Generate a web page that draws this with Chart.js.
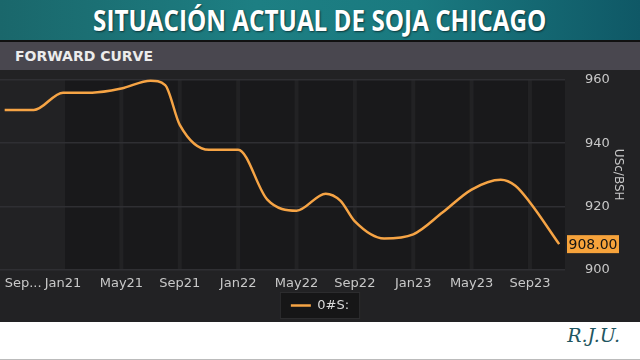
<!DOCTYPE html>
<html>
<head>
<meta charset="utf-8">
<script src="https://cdn.jsdelivr.net/npm/chart.js@4.4.1/dist/chart.umd.min.js"></script>
<style>
html,body{margin:0;padding:0;}
body{width:640px;height:360px;overflow:hidden;background:#fff;position:relative;font-family:"DejaVu Sans",sans-serif;}
#cabecera{position:absolute;left:0;top:0;width:640px;height:40px;background:linear-gradient(90deg,#1a676b 0%,#1d7f83 40%,#1a7a80 65%,#0f5866 100%);}
#titulo{position:absolute;left:0;top:0;width:640px;height:40px;line-height:40px;text-align:center;color:#fff;font-family:"Open Sans",sans-serif;font-weight:700;font-size:28px;text-shadow:1px 1px 2px rgba(0,0,0,.55);white-space:nowrap;}
#titulo span{display:inline-block;transform-origin:center center;}
#linea{position:absolute;top:40px;left:0;width:640px;height:2px;background:#111;}
#barra{position:absolute;top:42px;left:0;width:640px;height:28px;background:#49474f;}
#barra span{position:absolute;left:15px;top:0;line-height:28px;color:#ececec;font-weight:700;font-size:14px;}
#grafico{position:absolute;top:70px;left:0;width:640px;height:252px;background:#222224;}
#pie{position:absolute;top:322px;left:0;width:640px;height:38px;background:#fff;border-bottom:1px solid #bbb;box-sizing:border-box;}
#firma{position:absolute;right:20px;top:2px;font-family:"DejaVu Serif",serif;font-style:italic;font-size:19px;color:#1f5661;}
</style>
</head>
<body>
<div id="cabecera"></div>
<div id="titulo"><span>SITUACIÓN ACTUAL DE SOJA CHICAGO</span></div>
<div id="linea"></div>
<div id="barra"><span>FORWARD CURVE</span></div>
<div id="grafico"><canvas id="curva" width="640" height="252"></canvas></div>
<div id="pie"><div id="firma">R.J.U.</div></div>
<script>
const contratos=['Sep20','Nov20','Jan21','Mar21','May21','Jul21','Aug21','Sep21','Nov21','Jan22','Mar22','May22','Jul22','Aug22','Sep22','Nov22','Jan23','Mar23','May23','Jul23','Aug23','Sep23','Nov23'];
const precios=[950.5,950.5,956,956,957.3,959.8,958.4,945.8,937.9,937.9,922.1,918.6,924,921.8,915.2,909.8,911.1,918,925.3,928.4,926.5,921.2,908];
const etiquetasX=['Sep20','Jan21','May21','Sep21','Jan22','May22','Sep22','Jan23','May23','Sep23'];
const ticksY=[900,920,940,960];

const meses=['Jan','Feb','Mar','Apr','May','Jun','Jul','Aug','Sep','Oct','Nov','Dec'];
// meses desde Sep20
const mesIdx=n=>(parseInt(n.slice(3))-20)*12+meses.indexOf(n.slice(0,3))-8;

const ajustarTitulo=()=>{
    let s=document.querySelector('#titulo span');
    s.style.transform='scaleX('+(453/s.offsetWidth)+')';
}

const fondo={
    id:'fondo',
    beforeDraw(chart){
        const {ctx,chartArea:a,scales}=chart;
        ctx.save();
        // celdas oscuras entre las lineas verticales
        let xs=etiquetasX.slice(1).map(n=>scales.x.getPixelForValue(mesIdx(n)));
        xs.push(a.right+2);
        ctx.fillStyle='#19191b';
        for(let i=0;i<xs.length-1;i++){
            ctx.fillRect(xs[i]+2,a.top,xs[i+1]-xs[i]-4,a.bottom-a.top);
        }
        // caja de la leyenda
        let h=chart.legend.legendHitBoxes[0];
        if(h){
            ctx.fillStyle='#161617';
            ctx.strokeStyle='#2c2c2e';
            ctx.fillRect(h.left-10,h.top-6,h.width+20,h.height+12);
            ctx.strokeRect(h.left-10.5,h.top-6.5,h.width+21,h.height+13);
        }
        ctx.restore();
    }
}

const ultimoValor={
    id:'ultimoValor',
    afterDraw(chart){
        const {ctx,chartArea:a,scales}=chart;
        let v=precios[precios.length-1];
        let y=scales.y.getPixelForValue(v);
        ctx.save();
        ctx.fillStyle='#f7a33b';
        ctx.fillRect(a.right+2,y-9,52,18);
        ctx.fillStyle='#141414';
        ctx.font='14px "DejaVu Sans"';
        ctx.textAlign='center';
        ctx.textBaseline='middle';
        ctx.fillText(v.toFixed(2),a.right+28,y+1);
        ctx.restore();
    }
}

const mostrarGrafico=()=>{
    ajustarTitulo();
    let ctx=document.getElementById('curva');
    new Chart(ctx,{
        type:'line',
        data:{
            datasets:[{
                label:'0#S:',
                data:contratos.map((c,i)=>({x:mesIdx(c),y:precios[i]})),
                borderColor:'#f6a445',
                backgroundColor:'#f6a445',
                borderWidth:2.5,
                pointRadius:0,
                cubicInterpolationMode:'monotone',
                clip:false
            }]
        },
        options:{
            responsive:false,
            animation:false,
            layout:{padding:{top:10,bottom:0,left:0,right:0}},
            plugins:{
                legend:{
                    position:'bottom',
                    labels:{
                        usePointStyle:true,
                        pointStyle:'line',
                        pointStyleWidth:20,
                        color:'#d8d8d8',
                        font:{family:'"DejaVu Sans"',size:13},
                        padding:2
                    }
                },
                tooltip:{enabled:false}
            },
            scales:{
                x:{
                    type:'linear',
                    min:-0.32,
                    max:38.4,
                    afterBuildTicks:s=>{
                        s.ticks=etiquetasX.map(n=>({value:mesIdx(n)})).concat([{value:38.4}]);
                    },
                    afterFit:s=>{s.paddingLeft=0;s.paddingRight=0;},
                    grid:{display:false,drawTicks:false},
                    border:{display:false},
                    ticks:{
                        autoSkip:false,
                        maxRotation:0,
                        align:'inner',
                        padding:6,
                        color:'#c8c8c8',
                        font:{family:'"DejaVu Sans"',size:13},
                        callback:(v,i)=>{
                            if(i>=etiquetasX.length) return '';
                            return i==0 ? etiquetasX[0].slice(0,3)+'...' : etiquetasX[i];
                        }
                    }
                },
                y:{
                    position:'right',
                    min:900,
                    max:960,
                    afterBuildTicks:s=>{s.ticks=ticksY.map(v=>({value:v}));},
                    afterFit:s=>{s.width=75;s.paddingTop=0;s.paddingBottom=0;},
                    grid:{color:'#2f2f33',lineWidth:1.5,drawTicks:false},
                    border:{display:false},
                    ticks:{
                        padding:20,
                        color:'#c8c8c8',
                        font:{family:'"DejaVu Sans"',size:13}
                    },
                    title:{
                        display:true,
                        text:'USc/BSH',
                        color:'#c8c8c8',
                        font:{family:'"DejaVu Sans"',size:12},
                        padding:{top:15,bottom:0}
                    }
                }
            }
        },
        plugins:[fondo,ultimoValor]
    });
}
document.fonts.ready.then(mostrarGrafico);
</script>
</body>
</html>
